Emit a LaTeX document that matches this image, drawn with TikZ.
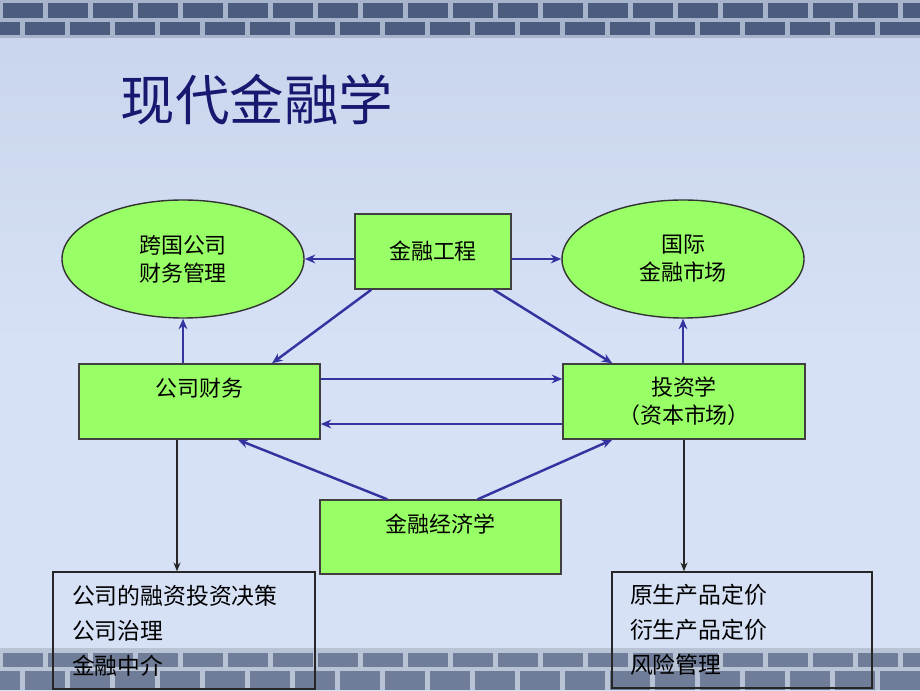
\documentclass[tikz,border=0pt]{standalone}
\usepackage{fontspec}
\setmainfont{Liberation Serif}
\newfontfamily\cjk{Noto Sans CJK SC}
\usetikzlibrary{positioning,shapes.geometric,arrows.meta,calc}

\definecolor{slidebg}{RGB}{214,225,246}
\definecolor{slidebgb}{RGB}{200,212,236}
\definecolor{brickdark}{RGB}{76,92,126}
\definecolor{brickmortar}{RGB}{168,180,204}
\definecolor{boxgreen}{RGB}{153,255,102}
\definecolor{linkblue}{RGB}{52,52,160}
\definecolor{titleblue}{RGB}{24,24,112}

\tikzset{
  greenbox/.style={draw=black!75, fill=boxgreen, line width=0.8pt, minimum height=1.5cm,
    inner sep=0pt, font=\cjk\fontsize{12.5}{16}\selectfont, align=center},
  greenoval/.style={ellipse, draw=black!80, fill=boxgreen, line width=0.8pt,
    minimum width=4.84cm, minimum height=2.36cm, inner sep=0pt,
    font=\cjk\fontsize{12.5}{16}\selectfont, align=center},
  listbox/.style={draw=black!85, line width=0.8pt, inner ysep=0pt, align=left,
    font=\cjk\fontsize{13}{20}\selectfont},
  link/.style={draw=linkblue, line width=1.4pt, -{Stealth[length=6pt,width=5pt]}},
  thinlink/.style={draw=black!85, line width=0.6pt, -{Stealth[length=5pt,width=4pt]}}
}

\begin{document}
\begin{tikzpicture}
		%%%%% START %%%%%
		
		% slide background and brick bands
		\shade[top color=slidebgb, bottom color=slidebg, middle color=slidebg] (0, 0) rectangle (18.4, 13.8);
		\useasboundingbox (0, 0) rectangle (18.4, 13.8);
		
		\fill[brickmortar] (0, 13.04) rectangle (18.4, 13.8);
		\foreach \x in {0,0.9,...,18.0}
			\fill[brickdark] (\x+0.05, 13.44) rectangle (\x+0.85, 13.74);
		\foreach \x in {-0.45,0.45,...,18.0}
			\fill[brickdark] (\x+0.05, 13.10) rectangle (\x+0.85, 13.36);
		
		\fill[brickmortar!80!white] (0, 0) rectangle (18.4, 0.84);
		\foreach \x in {0,0.9,...,18.0}
			\fill[brickdark!80!white] (\x+0.05, 0.46) rectangle (\x+0.85, 0.74);
		\foreach \x in {-0.45,0.45,...,18.0}
			\fill[brickdark!80!white] (\x+0.05, 0.0) rectangle (\x+0.85, 0.38);
		
		% title
		\node[font=\cjk\fontsize{31}{36}\selectfont, text=titleblue] (title) at (5.14, 11.8) {现代金融学};
		
		% top row
		\node[greenoval] (kgcw) at (3.66, 8.62) {跨国公司\\财务管理};
		\node[greenbox, minimum width=3.12cm] (jrgc) at (8.66, 8.77) {金融工程};
		\node[greenoval] (gjsc) at (13.66, 8.62) {国际\\金融市场};
		
		% middle row
		\node[greenbox, minimum width=4.82cm] (gscw) at (3.99, 5.77) {公司财务\\\mbox{}};
		\node[greenbox, minimum width=4.84cm] (tzx) at (13.68, 5.77) {投资学\\（资本市场）};
		\node[greenbox, minimum width=4.82cm, minimum height=1.48cm] (jrjj) at (8.81, 3.06) {金融经济学\\\mbox{}};
		
		% lists
		\node[listbox, minimum height=2.34cm, text width=4.48cm, inner xsep=0.38cm] (gslist) at (3.68, 1.19)
			{公司的融资投资决策\\公司治理\\金融中介};
		\node[listbox, minimum height=2.32cm, text width=4.48cm, inner xsep=0.36cm] (tzlist) at (14.84, 1.2)
			{原生产品定价\\衍生产品定价\\风险管理};
		
		% connectors
		\draw[link] (jrgc.west |- kgcw.east) -- (kgcw.east);
		\draw[link] (jrgc.east |- gjsc.west) -- (gjsc.west);
		\draw[link] ([xshift=0.34cm]jrgc.south west) -- ([xshift=1.45cm]gscw.north);
		\draw[link] ([xshift=-0.36cm]jrgc.south east) -- ([xshift=1.0cm]tzx.north west);
		\draw[link] (kgcw.south |- gscw.north) -- (kgcw.south);
		\draw[link] (gjsc.south |- tzx.north) -- (gjsc.south);
		\draw[link] ([yshift=0.45cm]gscw.east) -- ([yshift=0.45cm]tzx.west);
		\draw[link] ([yshift=-0.45cm]tzx.west) -- ([yshift=-0.45cm]gscw.east);
		\draw[link] ([xshift=1.36cm]jrjj.north west) -- ([xshift=-1.66cm]gscw.south east);
		\draw[link] ([xshift=-1.68cm]jrjj.north east) -- ([xshift=1.0cm]tzx.south west);
		
		\draw[thinlink] ([xshift=-0.45cm]gscw.south) -- ([xshift=-0.45cm]gscw.south |- gslist.north);
		\draw[thinlink] (tzx.south) -- (tzx.south |- tzlist.north);
		
		%%%%% END %%%%%
\end{tikzpicture}
\end{document}
